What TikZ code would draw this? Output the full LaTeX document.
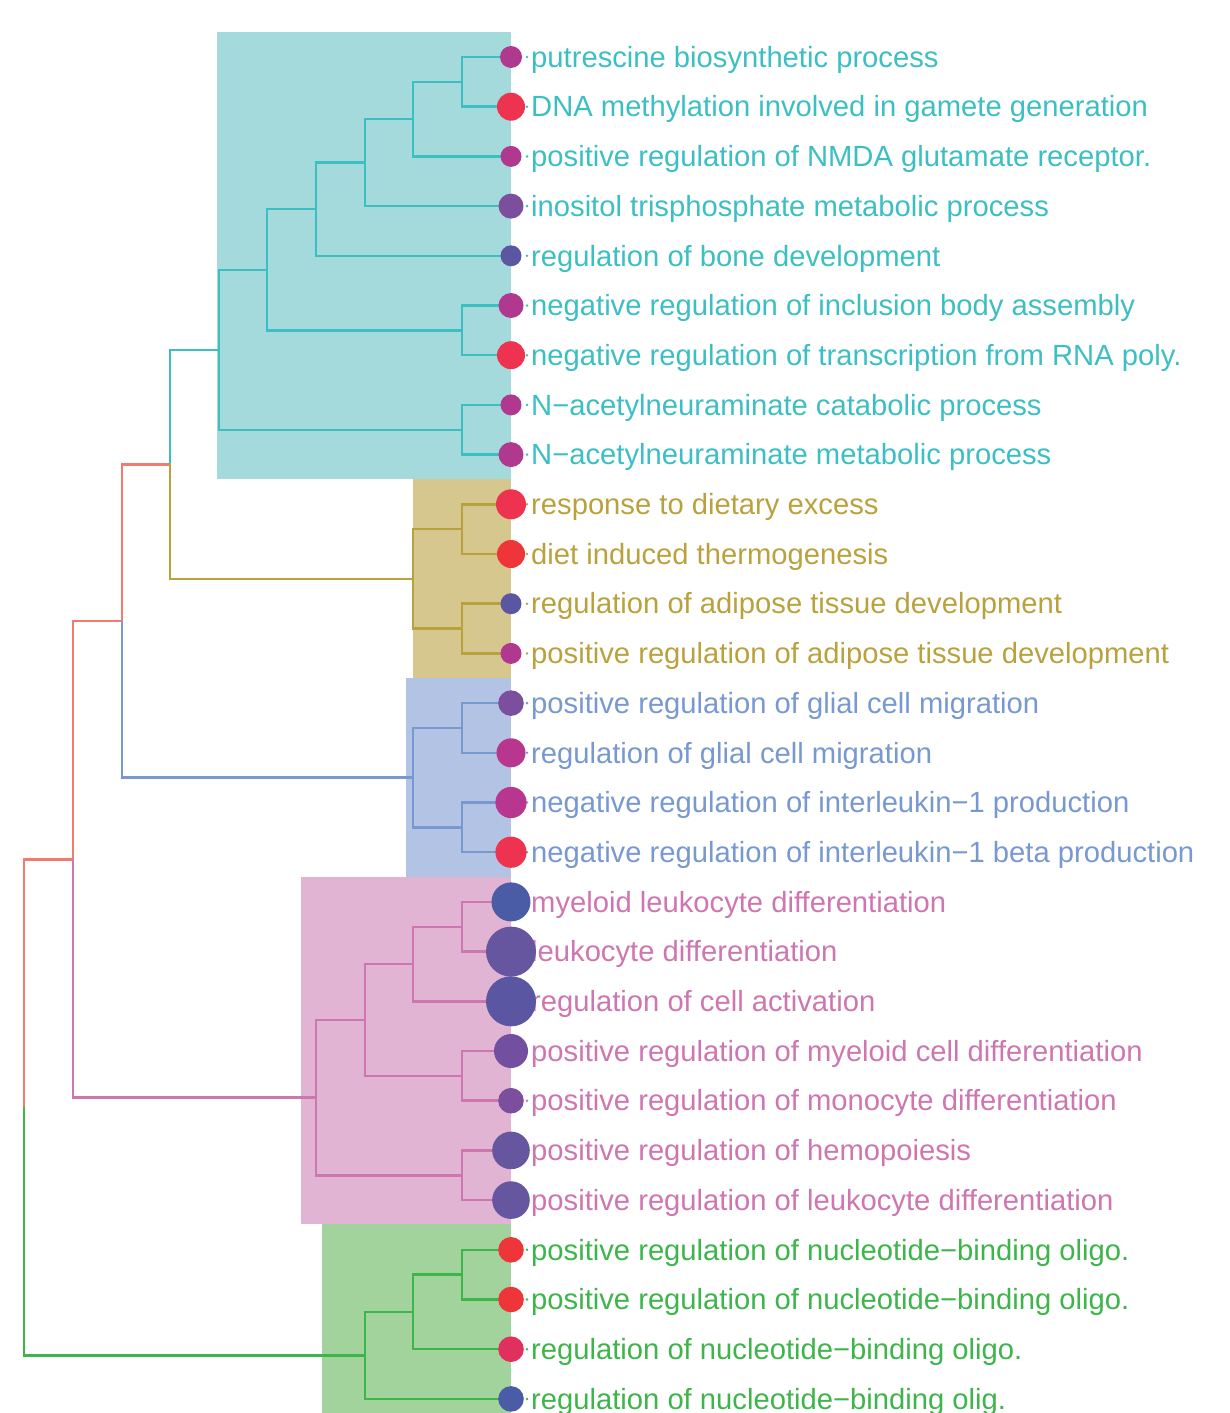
\documentclass[tikz,border=0pt]{standalone}
\usepackage{fontspec}
\setmainfont{Liberation Sans}
\definecolor{cyL}{HTML}{3CBFC3}
\definecolor{cyF}{HTML}{A5DADD}
\definecolor{olL}{HTML}{B9A23E}
\definecolor{olF}{HTML}{D6C78F}
\definecolor{blL}{HTML}{7898D0}
\definecolor{blF}{HTML}{B3C3E3}
\definecolor{pkL}{HTML}{CE76B0}
\definecolor{pkF}{HTML}{E0B4D2}
\definecolor{grL}{HTML}{3DB54A}
\definecolor{grF}{HTML}{A3D39D}
\definecolor{rdL}{HTML}{F27B6F}
\definecolor{cMag}{HTML}{B0398F}
\definecolor{cMag2}{HTML}{B8368F}
\definecolor{cRed}{HTML}{EE3350}
\definecolor{cRed2}{HTML}{EE3539}
\definecolor{cRed3}{HTML}{E1305E}
\definecolor{cPur}{HTML}{7C4F9E}
\definecolor{cPur2}{HTML}{734F9F}
\definecolor{cInd}{HTML}{5A56A2}
\definecolor{cInd2}{HTML}{66569F}
\definecolor{cBlu}{HTML}{4B5CA7}
\begin{document}
\begin{tikzpicture}[x=1pt,y=-1pt,
  br/.style={line width=2.5pt},
  lab/.style={anchor=west,inner sep=0pt,text height=20.5pt,text depth=0pt,font=\fontsize{29.2}{34}\selectfont},
  tipdot/.style={circle,inner sep=0pt,draw=none}]
\useasboundingbox (0,0) rectangle (1230,1413);
% highlight rectangles
\fill[cyF] (217,32) rectangle (511,479);
\fill[olF] (413,479) rectangle (511,678);
\fill[blF] (406,678) rectangle (511,877);
\fill[pkF] (301,877) rectangle (511,1224);
\fill[grF] (322,1224) rectangle (511,1413);
% tips
\foreach \i in {1,...,28} \coordinate (t\i) at (511,{57+49.7*(\i-1)});
% internal nodes
\coordinate (c5) at (462,81.85);
\coordinate (c4) at (413,119.1);
\coordinate (c3) at (365,162.6);
\coordinate (c2) at (316,209.2);
\coordinate (c6) at (462,330.35);
\coordinate (c1) at (267,269.8);
\coordinate (c8) at (462,429.75);
\coordinate (c0) at (219,349.8);
\coordinate (o1) at (462,529.15);
\coordinate (o2) at (462,628.55);
\coordinate (o0) at (413,578.85);
\coordinate (b1) at (462,727.95);
\coordinate (b2) at (462,827.35);
\coordinate (b0) at (413,777.65);
\coordinate (p3) at (462,926.75);
\coordinate (p2) at (413,964.0);
\coordinate (p4) at (462,1075.85);
\coordinate (p1) at (365,1019.9);
\coordinate (p5) at (462,1175.25);
\coordinate (p0) at (316,1097.6);
\coordinate (g2) at (462,1274.65);
\coordinate (g1) at (413,1311.9);
\coordinate (g0) at (365,1355.4);
\coordinate (nC) at (170,464.3);
\coordinate (nB) at (122,621.0);
\coordinate (nA) at (73,859.3);
\coordinate (root) at (24,1107.4);
% backbone
\draw[br,rdL] (root) |- (nA);
\draw[br,grL] (root) |- (g0);
\draw[br,rdL] (nA) |- (nB);
\draw[br,pkL] (nA) |- (p0);
\draw[br,rdL] (nB) |- (nC);
\draw[br,blL] (nB) |- (b0);
\draw[br,cyL] (nC) |- (c0);
\draw[br,olL] (nC) |- (o0);
% cyan clade
\draw[br,cyL] (c0) |- (c1); \draw[br,cyL] (c0) |- (c8);
\draw[br,cyL] (c1) |- (c2); \draw[br,cyL] (c1) |- (c6);
\draw[br,cyL] (c2) |- (c3); \draw[br,cyL] (c2) |- (t5);
\draw[br,cyL] (c3) |- (c4); \draw[br,cyL] (c3) |- (t4);
\draw[br,cyL] (c4) |- (c5); \draw[br,cyL] (c4) |- (t3);
\draw[br,cyL] (c5) |- (t1); \draw[br,cyL] (c5) |- (t2);
\draw[br,cyL] (c6) |- (t6); \draw[br,cyL] (c6) |- (t7);
\draw[br,cyL] (c8) |- (t8); \draw[br,cyL] (c8) |- (t9);
% olive clade
\draw[br,olL] (o0) |- (o1); \draw[br,olL] (o0) |- (o2);
\draw[br,olL] (o1) |- (t10); \draw[br,olL] (o1) |- (t11);
\draw[br,olL] (o2) |- (t12); \draw[br,olL] (o2) |- (t13);
% blue clade
\draw[br,blL] (b0) |- (b1); \draw[br,blL] (b0) |- (b2);
\draw[br,blL] (b1) |- (t14); \draw[br,blL] (b1) |- (t15);
\draw[br,blL] (b2) |- (t16); \draw[br,blL] (b2) |- (t17);
% pink clade
\draw[br,pkL] (p0) |- (p1); \draw[br,pkL] (p0) |- (p5);
\draw[br,pkL] (p1) |- (p2); \draw[br,pkL] (p1) |- (p4);
\draw[br,pkL] (p2) |- (p3); \draw[br,pkL] (p2) |- (t20);
\draw[br,pkL] (p3) |- (t18); \draw[br,pkL] (p3) |- (t19);
\draw[br,pkL] (p4) |- (t21); \draw[br,pkL] (p4) |- (t22);
\draw[br,pkL] (p5) |- (t23); \draw[br,pkL] (p5) |- (t24);
% green clade
\draw[br,grL] (g0) |- (g1); \draw[br,grL] (g0) |- (t28);
\draw[br,grL] (g1) |- (g2); \draw[br,grL] (g1) |- (t27);
\draw[br,grL] (g2) |- (t25); \draw[br,grL] (g2) |- (t26);
% labels
\foreach \i/\c/\t in {
 1/cyL/putrescine biosynthetic process,
 2/cyL/DNA methylation involved in gamete generation,
 3/cyL/positive regulation of NMDA glutamate receptor.,
 4/cyL/inositol trisphosphate metabolic process,
 5/cyL/regulation of bone development,
 6/cyL/negative regulation of inclusion body assembly,
 7/cyL/negative regulation of transcription from RNA poly.,
 8/cyL/N−acetylneuraminate catabolic process,
 9/cyL/N−acetylneuraminate metabolic process,
 10/olL/response to dietary excess,
 11/olL/diet induced thermogenesis,
 12/olL/regulation of adipose tissue development,
 13/olL/positive regulation of adipose tissue development,
 14/blL/positive regulation of glial cell migration,
 15/blL/regulation of glial cell migration,
 16/blL/negative regulation of interleukin−1 production,
 17/blL/negative regulation of interleukin−1 beta production,
 18/pkL/myeloid leukocyte differentiation,
 19/pkL/leukocyte differentiation,
 20/pkL/regulation of cell activation,
 21/pkL/positive regulation of myeloid cell differentiation,
 22/pkL/positive regulation of monocyte differentiation,
 23/pkL/positive regulation of hemopoiesis,
 24/pkL/positive regulation of leukocyte differentiation,
 25/grL/positive regulation of nucleotide−binding oligo.,
 26/grL/positive regulation of nucleotide−binding oligo.,
 27/grL/regulation of nucleotide−binding oligo.,
 28/grL/regulation of nucleotide−binding olig.}{
  \fill[\c] (527,{57+49.7*(\i-1)}) circle (1.4);
  \node[lab,text=\c] (l\i) at (531,{57+49.7*(\i-1)}) {\t};
}
% tip points
\foreach \i/\fc/\r in {
 1/cMag/11, 2/cRed/14, 3/cMag/10.5, 4/cPur/12.5, 5/cInd/10.5, 6/cMag/12.5,
 7/cRed/14, 8/cMag/10.5, 9/cMag/12.5, 10/cRed/15, 11/cRed2/14, 12/cInd/10.5,
 13/cMag/10.5, 14/cPur/12.8, 15/cMag2/14.5, 16/cMag2/15.6, 17/cRed/15.6,
 18/cBlu/19.5, 19/cInd2/25, 20/cInd/25, 21/cPur2/17, 22/cPur/12.8,
 23/cInd2/18.8, 24/cInd2/18.8, 25/cRed2/12.8, 26/cRed2/12.8, 27/cRed3/12.8, 28/cBlu/12.8}{
  \node[tipdot,fill=\fc,minimum size={2*\r pt}] (d\i) at (t\i) {};
}
\end{tikzpicture}
\end{document}
